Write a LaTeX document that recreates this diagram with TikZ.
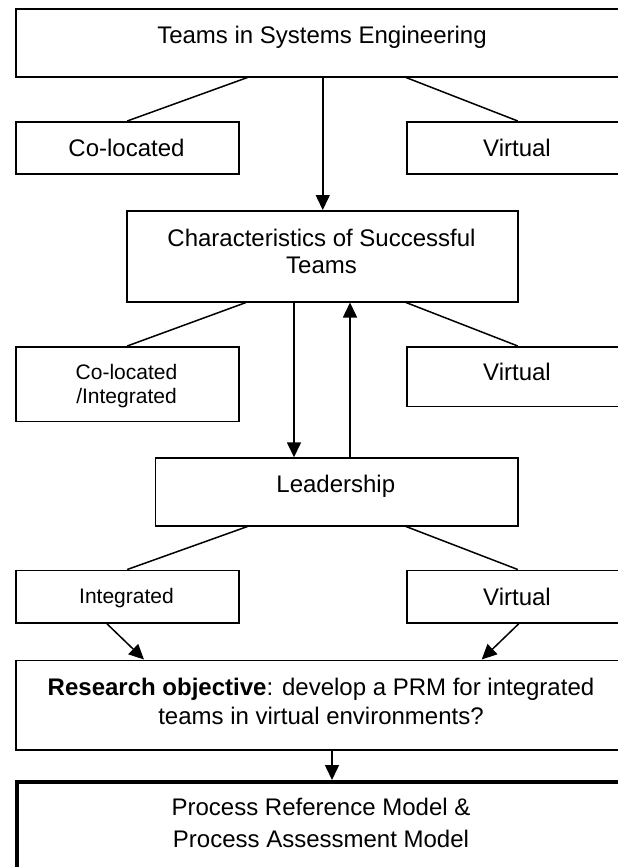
\documentclass[tikz,border=0pt]{standalone}
\usepackage{fontspec}
\setmainfont{Liberation Sans}
\usetikzlibrary{arrows.meta,calc}
\begin{document}
\begin{tikzpicture}[x=1pt,y=-1pt,
  box/.style={draw=black,line width=1.5pt,rectangle,inner sep=0pt,anchor=north west},
  thickbox/.style={draw=black,line width=4pt,rectangle,inner sep=0pt,anchor=north west},
  big/.style={font=\fontsize{24}{27}\selectfont,inner sep=0pt,anchor=base,align=center},
  small/.style={font=\fontsize{21}{24}\selectfont,inner sep=0pt,anchor=base,align=center},
  link/.style={line width=1.5pt},
  arr/.style={line width=1.5pt,-{Triangle[length=15pt,width=14pt]}}]
\useasboundingbox (0,0) rectangle (618,867);
\clip (0,0) rectangle (618,867);
% boxes
\node[box,minimum width=614pt,minimum height=67.5pt] (top) at (15,8.5) {};
\node[box,minimum width=223pt,minimum height=52pt] (coloc1) at (15,121) {};
\node[box,minimum width=222pt,minimum height=52pt] (virt1) at (406,121) {};
\node[box,minimum width=391pt,minimum height=91pt] (char) at (126,210) {};
\node[box,minimum width=223pt,minimum height=74.5pt] (coloc2) at (15,346) {};
\node[box,minimum width=222pt,minimum height=59.5pt] (virt2) at (406,346) {};
\node[box,minimum width=362.5pt,minimum height=67.7pt] (lead) at (154.5,457.3) {};
\node[box,minimum width=223pt,minimum height=52.8pt] (integ) at (15,569.5) {};
\node[box,minimum width=222pt,minimum height=52.8pt] (virt3) at (406,569.5) {};
\node[box,minimum width=613pt,minimum height=89.8pt] (research) at (15,659.5) {};
\node[thickbox,minimum width=614pt,minimum height=130pt] (final) at (15.3,780) {};
% texts (multi-line nodes: base = last line)
\node[big] (ttop) at (322,44) {Teams in Systems Engineering};
\node[big] (tcoloc1) at (126.5,156) {Co-located};
\node[big] (tvirt1) at (517,156) {Virtual};
\node[big,font=\fontsize{24}{26.7}\selectfont] (tchar) at (321.5,273.3) {Characteristics of Successful\\Teams};
\node[small] (tcoloc2) at (126.5,403.3) {Co-located\\/Integrated};
\node[big] (tvirt2) at (517,380.5) {Virtual};
\node[big] (tlead) at (335.8,492.7) {Leadership};
\node[small] (tinteg) at (126.5,603.3) {Integrated};
\node[big] (tvirt3) at (517,605) {Virtual};
\node[big,font=\fontsize{24}{28.3}\selectfont] (tresearch) at (321,724) {\textbf{Research objective}: develop a PRM for integrated\\teams in virtual environments?};
\node[big,font=\fontsize{24}{32}\selectfont] (tfinal) at (321,847.7) {Process Reference Model \&\\Process Assessment Model};
% connectors
\draw[link] ($(top.south west)+(232.5,0)$) -- (coloc1.north);
\draw[link] (top.south -| virt1.north west) -- (virt1.north);
\draw[arr] (top.south) -- (top.south |- char.north);
\draw[link] ($(char.south west)+(120,0)$) -- (coloc2.north);
\draw[link] (char.south -| virt2.north west) -- (virt2.north);
\draw[arr] ($(char.south west)+(168,0)$) coordinate (cd) -- (cd |- lead.north);
\draw[arr] ($(lead.north west)+(195.5,0)$) coordinate (lu) -- (lu |- char.south);
\draw[link] ($(lead.south west)+(93,0)$) -- (integ.north);
\draw[link] (lead.south -| virt3.north west) -- (virt3.north);
\draw[arr] ($(integ.south west)+(92,0)$) -- ($(research.north west)+(129,0)$);
\draw[arr] ($(virt3.south west)+(112.7,0)$) -- ($(research.north west)+(466.7,0)$);
\draw[arr] ($(research.south west)+(317,0)$) coordinate (rd) -- (rd |- final.north);
\end{tikzpicture}
\end{document}
